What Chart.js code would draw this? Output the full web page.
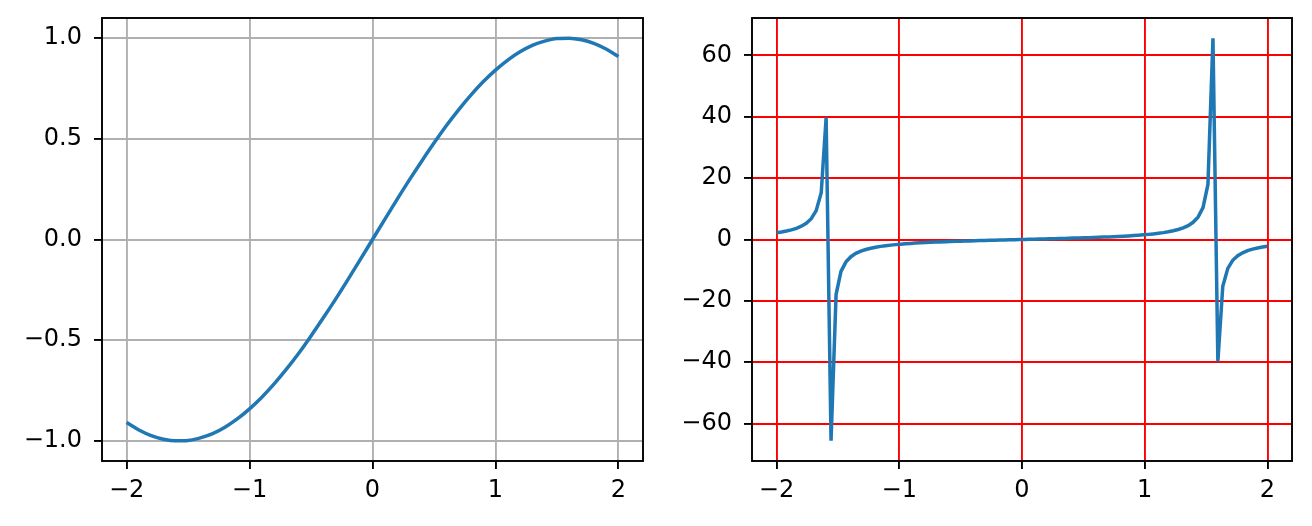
<!DOCTYPE html>
<html>
<head>
<meta charset="utf-8">
<script src="https://cdn.jsdelivr.net/npm/chart.js@4/dist/chart.umd.min.js"></script>
<style>
  body { margin: 0; background: #fff; }
  #wrap { position: relative; width: 1312px; height: 526px; }
  canvas { position: absolute; top: 0; }
</style>
</head>
<body>
<div id="wrap">
  <canvas id="sinChart" width="656" height="526" style="left:0"></canvas>
  <canvas id="tanChart" width="656" height="526" style="left:656px"></canvas>
</div>
<script>
// left panel: smooth curve read at 0.1 steps
const sinX = [-2.0, -1.9, -1.8, -1.7, -1.6, -1.5, -1.4, -1.3, -1.2, -1.1, -1.0,
    -0.9, -0.8, -0.7, -0.6, -0.5, -0.4, -0.3, -0.2, -0.1, 0.0,
    0.1, 0.2, 0.3, 0.4, 0.5, 0.6, 0.7, 0.8, 0.9, 1.0,
    1.1, 1.2, 1.3, 1.4, 1.5, 1.6, 1.7, 1.8, 1.9, 2.0];
const sinY = [-0.909, -0.946, -0.974, -0.992, -1.000, -0.998, -0.985, -0.964, -0.932, -0.891, -0.841,
    -0.783, -0.717, -0.644, -0.565, -0.479, -0.389, -0.296, -0.199, -0.100, 0.000,
    0.100, 0.199, 0.296, 0.389, 0.479, 0.565, 0.644, 0.717, 0.783, 0.841,
    0.891, 0.932, 0.964, 0.985, 0.998, 1.000, 0.992, 0.974, 0.946, 0.909];

// right panel: 100 samples between -2 and 2
const tanX = [-2.000, -1.960, -1.919, -1.879, -1.838, -1.798, -1.758, -1.717, -1.677, -1.636,
    -1.596, -1.556, -1.515, -1.475, -1.434, -1.394, -1.354, -1.313, -1.273, -1.232,
    -1.192, -1.152, -1.111, -1.071, -1.030, -0.990, -0.949, -0.909, -0.869, -0.828,
    -0.788, -0.747, -0.707, -0.667, -0.626, -0.586, -0.545, -0.505, -0.465, -0.424,
    -0.384, -0.343, -0.303, -0.263, -0.222, -0.182, -0.141, -0.101, -0.061, -0.020,
    0.020, 0.061, 0.101, 0.141, 0.182, 0.222, 0.263, 0.303, 0.343, 0.384,
    0.424, 0.465, 0.505, 0.545, 0.586, 0.626, 0.667, 0.707, 0.747, 0.788,
    0.828, 0.869, 0.909, 0.949, 0.990, 1.030, 1.071, 1.111, 1.152, 1.192,
    1.232, 1.273, 1.313, 1.354, 1.394, 1.434, 1.475, 1.515, 1.556, 1.596,
    1.636, 1.677, 1.717, 1.758, 1.798, 1.838, 1.879, 1.919, 1.960, 2.000];
const tanY = [2.19, 2.44, 2.75, 3.14, 3.65, 4.33, 5.29, 6.78, 9.40, 15.23,
    39.74, -65.61, -17.95, -10.38, -7.28, -5.60, -4.53, -3.80, -3.26, -2.84,
    -2.51, -2.24, -2.02, -1.83, -1.67, -1.52, -1.40, -1.28, -1.18, -1.09,
    -1.00, -0.93, -0.85, -0.79, -0.72, -0.66, -0.61, -0.55, -0.50, -0.45,
    -0.40, -0.36, -0.31, -0.27, -0.23, -0.18, -0.14, -0.10, -0.06, -0.02,
    0.02, 0.06, 0.10, 0.14, 0.18, 0.23, 0.27, 0.31, 0.36, 0.40,
    0.45, 0.50, 0.55, 0.61, 0.66, 0.72, 0.79, 0.85, 0.93, 1.00,
    1.09, 1.18, 1.28, 1.40, 1.52, 1.67, 1.83, 2.02, 2.24, 2.51,
    2.84, 3.26, 3.80, 4.53, 5.60, 7.28, 10.38, 17.95, 65.61, -39.74,
    -15.23, -9.40, -6.78, -5.29, -4.33, -3.65, -3.14, -2.75, -2.44, -2.19];

const xTicks = [-2, -1, 0, 1, 2];
const sinTicks = [-1.0, -0.5, 0.0, 0.5, 1.0];
const tanTicks = [-60, -40, -20, 0, 20, 40, 60];

const fontSpec = { family: 'DejaVu Sans', size: 24 };

// matplotlib style minus sign
function fmt(v, digits) {
    const s = Math.abs(v).toFixed(digits);
    return v < 0 ? '\u2212' + s : s;
}

// draws the black box round the plot area
const frame = {
    id: 'frame',
    afterDraw(chart) {
        const a = chart.chartArea;
        const ctx = chart.ctx;
        ctx.save();
        ctx.strokeStyle = '#000';
        ctx.lineWidth = 1.9;
        ctx.strokeRect(a.left, a.top, a.right - a.left, a.bottom - a.top);
        ctx.restore();
    }
};

function makeChart(id, xs, ys, opts) {
    const points = xs.map((x, i) => ({ x: x, y: ys[i] }));
    return new Chart(document.getElementById(id), {
        type: 'line',
        data: {
            datasets: [{
                data: points,
                borderColor: '#1f77b4',
                borderWidth: 3.5,
                pointRadius: 0,
                cubicInterpolationMode: opts.smooth ? 'monotone' : 'default',
                tension: 0,
                fill: false
            }]
        },
        options: {
            responsive: false,
            animation: false,
            layout: { padding: { top: 18, right: opts.padRight, left: 0, bottom: 0 } },
            plugins: { legend: { display: false }, tooltip: { enabled: false } },
            scales: {
                x: {
                    type: 'linear',
                    min: -2.2,
                    max: 2.2,
                    afterBuildTicks: s => { s.ticks = xTicks.map(v => ({ value: v })); },
                    afterFit: s => {
                        s.height = 65;
                        s.paddingLeft = 0;
                        s.paddingRight = 0;
                    },
                    border: { display: false },
                    grid: {
                        color: opts.gridColor,
                        lineWidth: opts.gridWidth,
                        tickColor: '#000',
                        tickLength: 8,
                        tickWidth: 1.9
                    },
                    ticks: {
                        color: '#000',
                        font: fontSpec,
                        padding: 7,
                        maxRotation: 0,
                        callback: v => fmt(v, 0)
                    }
                },
                y: {
                    type: 'linear',
                    min: opts.yMin,
                    max: opts.yMax,
                    afterBuildTicks: s => { s.ticks = opts.yTicks.map(v => ({ value: v })); },
                    afterFit: s => {
                        s.width = opts.yWidth;
                        s.paddingTop = 0;
                        s.paddingBottom = 0;
                    },
                    border: { display: false },
                    grid: {
                        color: opts.gridColor,
                        lineWidth: opts.gridWidth,
                        tickColor: '#000',
                        tickLength: 8,
                        tickWidth: 1.9
                    },
                    ticks: {
                        color: '#000',
                        font: fontSpec,
                        padding: 12,
                        callback: v => fmt(v, opts.digits)
                    }
                }
            }
        },
        plugins: [frame]
    });
}

makeChart('sinChart', sinX, sinY, {
    yMin: -1.1, yMax: 1.1, yTicks: sinTicks, digits: 1, smooth: true,
    gridColor: '#b0b0b0', gridWidth: 1.9, yWidth: 102, padRight: 13
});

makeChart('tanChart', tanX, tanY, {
    yMin: -72.2, yMax: 72.2, yTicks: tanTicks, digits: 0, smooth: false,
    gridColor: '#ff0000', gridWidth: 1.9, yWidth: 96, padRight: 20
});
</script>
</body>
</html>
